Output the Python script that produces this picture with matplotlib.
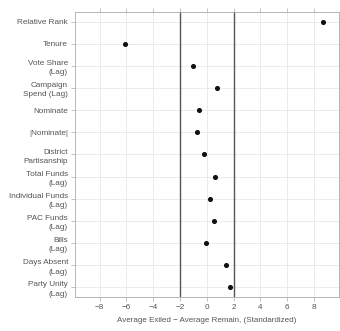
import matplotlib
matplotlib.use("Agg")
import matplotlib.pyplot as plt
import numpy as np

labels = ["Relative Rank", "Tenure", "Vote Share\n(Lag)", "Campaign\nSpend (Lag)",
          "Nominate", "|Nominate|", "District\nPartisanship", "Total Funds\n(Lag)",
          "Individual Funds\n(Lag)", "PAC Funds\n(Lag)", "Bills\n(Lag)",
          "Days Absent\n(Lag)", "Party Unity\n(Lag)"]
values = [8.7, -6.1, -1.05, 0.75, -0.55, -0.75, -0.18, 0.6, 0.27, 0.55, -0.05, 1.44, 1.74]
xticks = [-8, -6, -4, -2, 0, 2, 4, 6, 8]
ref_lines = [-2, 2]

plt.rcParams['font.family'] = ['Liberation Sans', 'DejaVu Sans']
fig = plt.figure(figsize=(3.4, 3.31), dpi=100)
ax = fig.add_axes([75/340, 1-297/331, (339-75)/340, (297-12)/331])

n = len(labels)
ypos = np.arange(n)[::-1] + 1

ax.scatter(values, ypos, s=7, color='#111111', zorder=3)
for r in ref_lines:
    ax.axvline(r, color='#555555', lw=1.0, zorder=2)

ax.set_xlim(-9.83, 9.87)
ax.set_ylim(0.57, n + 0.43)
ax.set_xticks(xticks)
ax.set_xticklabels([str(t) if t >= 0 else "\u2212" + str(-t) for t in xticks])
ax.set_yticks(ypos)
ax.set_yticklabels(labels, ha='right', multialignment='right', linespacing=1.45)
ax.grid(True, color='#e8e8e8', lw=0.6, zorder=0)
ax.set_axisbelow(True)

ax.tick_params(axis='both', colors='#aaaaaa', labelcolor='#555555', labelsize=5.9,
               length=3, width=0.5, pad=2)
ax.tick_params(axis='x', top=True, labeltop=False)
for s in ax.spines.values():
    s.set_color('#aaaaaa')
    s.set_linewidth(0.6)

ax.set_xlabel("Average Exiled \u2212 Average Remain, (Standardized)", fontsize=5.8,
              color='#555555', labelpad=4)

fig.savefig("out.png", dpi=100)
